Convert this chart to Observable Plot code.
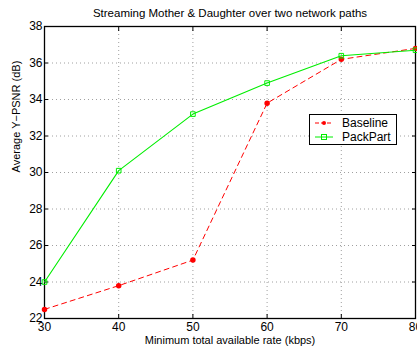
<!DOCTYPE html>
<html><head><meta charset="utf-8">
<script src="https://cdn.jsdelivr.net/npm/d3@7"></script>
<script src="https://cdn.jsdelivr.net/npm/@observablehq/plot@0.6"></script>
<style>
body{margin:0;background:#fff;font-family:"Liberation Sans",Arial,sans-serif;}
#wrap{position:relative;width:417px;height:347px;}
#legend{position:absolute;left:309px;top:114px;width:86px;height:29px;border:1.3px solid #000;background:#fff;font-size:12px;}
#legend div{height:13px;margin-top:1px;display:flex;align-items:center;}
#legend svg{margin-left:5px;margin-right:9px;}
</style></head>
<body><div id="wrap"><div id="chart"></div>
<div id="legend"></div></div>
<script>
const rates = [30, 40, 50, 60, 70, 80];
const baseline = [22.5, 23.8, 25.2, 33.8, 36.2, 36.8];
const packpart = [24.0, 30.1, 33.2, 34.9, 36.4, 36.7];
const seriesNames = ["Baseline", "PackPart"];
const xTicks = [30, 40, 50, 60, 70, 80];
const yTicks = [22, 24, 26, 28, 30, 32, 34, 36, 38];
const title = "Streaming Mother & Daughter over two network paths";
const xLabel = "Minimum total available rate (kbps)";
const yLabel = "Average Y\u2212PSNR (dB)";

const dB = rates.map((r,i)=>({x:r,y:baseline[i]}));
const dP = rates.map((r,i)=>({x:r,y:packpart[i]}));

const chart = Plot.plot({
  width: 417, height: 347,
  marginLeft: 44, marginRight: 2, marginTop: 26, marginBottom: 29,
  style: {fontFamily: '"Liberation Sans",Arial,sans-serif', fontSize: "11px", background: "#fff", color: "#000"},
  x: {domain: [30, 80], ticks: xTicks},
  y: {domain: [22, 38], ticks: yTicks},
  marks: [
    Plot.gridX(xTicks.slice(1,-1), {stroke: "#888", strokeOpacity: 1, strokeDasharray: "1,3", strokeWidth: 0.8}),
    Plot.gridY(yTicks.slice(1,-1), {stroke: "#888", strokeOpacity: 1, strokeDasharray: "1,3", strokeWidth: 0.8}),
    Plot.axisX({ticks: xTicks, tickSize: -4, tickPadding: 8, label: null, fontSize: 12}),
    Plot.axisX({ticks: xTicks, anchor: "top", tickSize: -4, tickFormat: () => "", label: null}),
    Plot.axisY({ticks: yTicks, tickSize: -4, tickPadding: 6, label: null, fontSize: 12}),
    Plot.axisY({ticks: yTicks, anchor: "right", tickSize: -4, tickFormat: () => "", label: null}),
    Plot.frame({stroke: "#000", strokeWidth: 1.3}),
    Plot.line(dB, {x: "x", y: "y", stroke: "#ff0000", strokeWidth: 1, strokeDasharray: "5,4"}),
    Plot.dot(dB, {x: "x", y: "y", r: 2, fill: "#ff0000", stroke: "#ff0000"}),
    Plot.line(dP, {x: "x", y: "y", stroke: "#00ee00", strokeWidth: 1.1}),
    Plot.dot(dP, {x: "x", y: "y", r: 2.6, symbol: "square", fill: "none", stroke: "#00ee00", strokeWidth: 1}),
    Plot.text([title], {frameAnchor: "top", dy: -18, fontSize: 11.5, text: d=>d}),
    Plot.text([xLabel], {frameAnchor: "bottom", dy: 25, fontSize: 11, text: d=>d}),
    Plot.text([yLabel], {frameAnchor: "left", dx: -28, rotate: -90, fontSize: 11, text: d=>d})
  ]
});
document.getElementById("chart").appendChild(chart);

const leg = document.getElementById("legend");
const styles = [
  {stroke:"#ff0000", dash:"4,2", marker:'<circle cx="9" cy="5" r="2" fill="#ff0000"/>'},
  {stroke:"#00ee00", dash:"", marker:'<rect x="6.5" y="2.5" width="5" height="5" fill="none" stroke="#00ee00"/>'}
];
seriesNames.forEach((n,i)=>{
  const s = styles[i];
  const row = document.createElement("div");
  row.innerHTML = `<svg width="18" height="10"><line x1="0" x2="18" y1="5" y2="5" stroke="${s.stroke}" stroke-dasharray="${s.dash}"/>${s.marker}</svg><span>${n}</span>`;
  leg.appendChild(row);
});
</script>
</body></html>
